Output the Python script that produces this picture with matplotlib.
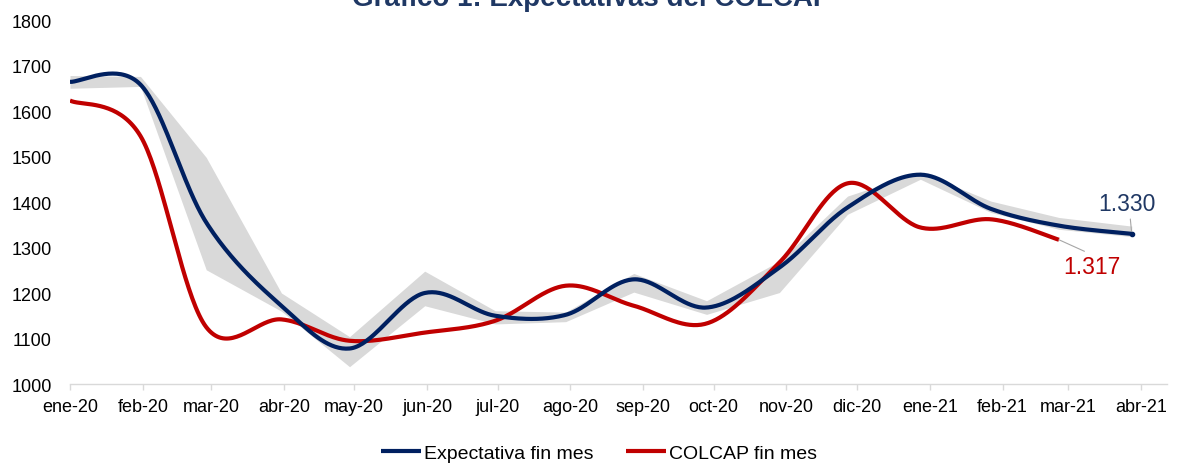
import numpy as np
import pandas as pd
import matplotlib
matplotlib.use('Agg')
import matplotlib.pyplot as plt
import matplotlib.dates as mdates

plt.rcParams['font.family'] = ['Liberation Sans', 'DejaVu Sans']

# Datos
fechas = pd.to_datetime(['2020-01-01', '2020-01-31', '2020-02-28', '2020-03-31',
                         '2020-04-29', '2020-05-31', '2020-06-30', '2020-07-30',
                         '2020-08-28', '2020-09-28', '2020-10-29', '2020-11-27',
                         '2020-12-28', '2021-01-27', '2021-02-25', '2021-03-28'])
expectativa = [1664, 1658, 1355, 1172, 1078, 1200, 1150, 1152,
               1230, 1168, 1256, 1388, 1460, 1385, 1348, 1330]
rango_min = [1650, 1654, 1251, 1160, 1038, 1172, 1132, 1137,
             1202, 1153, 1201, 1373, 1450, 1377, 1340, 1324]
rango_max = [1678, 1676, 1498, 1200, 1104, 1248, 1161, 1158,
             1243, 1183, 1270, 1413, 1466, 1402, 1366, 1347]
colcap = [1623, 1545, 1125, 1142, 1095, 1113, 1139, 1216,
          1172, 1133, 1267, 1441, 1344, 1362, 1317]

etiquetas_x = ['ene-20', 'feb-20', 'mar-20', 'abr-20', 'may-20', 'jun-20',
               'jul-20', 'ago-20', 'sep-20', 'oct-20', 'nov-20', 'dic-20',
               'ene-21', 'feb-21', 'mar-21', 'abr-21']
ticks_x = pd.date_range('2020-01-01', '2021-04-01', freq='MS')

azul = '#002060'
rojo = '#C00000'
gris = '#D9D9D9'


def suavizar(x, y, n=40):
    # curva suave tipo Excel (Catmull-Rom con Bezier)
    x = np.asarray(x, float)
    y = np.asarray(y, float)
    px = np.concatenate([[x[0]], x, [x[-1]]])
    py = np.concatenate([[y[0]], y, [y[-1]]])
    t = np.linspace(0, 1, n)
    xs, ys = [], []
    for i in range(len(x) - 1):
        x0, x1, x2, x3 = px[i:i + 4]
        y0, y1, y2, y3 = py[i:i + 4]
        cx1, cy1 = x1 + (x2 - x0) / 6, y1 + (y2 - y0) / 6
        cx2, cy2 = x2 - (x3 - x1) / 6, y2 - (y3 - y1) / 6
        b0 = (1 - t) ** 3
        b1 = 3 * (1 - t) ** 2 * t
        b2 = 3 * (1 - t) * t ** 2
        b3 = t ** 3
        xs.append(b0 * x1 + b1 * cx1 + b2 * cx2 + b3 * x2)
        ys.append(b0 * y1 + b1 * cy1 + b2 * cy2 + b3 * y2)
    return np.concatenate(xs), np.concatenate(ys)


xn = mdates.date2num(fechas)

fig = plt.figure(figsize=(11.81, 4.64), dpi=100)
ax = fig.add_axes([70 / 1181, 1 - 385 / 464, (1167 - 70) / 1181, (385 - 21) / 464])

ax.fill_between(xn, rango_min, rango_max, color=gris, lw=0, zorder=1)

bx, by = suavizar(xn, expectativa)
ax.plot(bx, by, color=azul, lw=3, zorder=3, solid_capstyle='butt',
        label='Expectativa fin mes')
ax.plot(xn[-1], expectativa[-1], 'o', color=azul, ms=3, zorder=4)

rx, ry = suavizar(xn[:len(colcap)], colcap)
ax.plot(rx, ry, color=rojo, lw=3, zorder=2, solid_capstyle='butt',
        label='COLCAP fin mes')

# etiquetas de los ultimos valores
ax.annotate('1.330', xy=(xn[-1], expectativa[-1]),
            xytext=(mdates.date2num(pd.Timestamp('2021-03-26')), 1397),
            ha='center', va='center', fontsize=16.5, color='#203864',
            arrowprops=dict(arrowstyle='-', color='#A6A6A6', lw=0.8,
                            relpos=(0.55, 0), shrinkA=1, shrinkB=0))
ax.annotate('1.317', xy=(xn[len(colcap) - 1], colcap[-1]),
            xytext=(mdates.date2num(pd.Timestamp('2021-03-11')), 1259),
            ha='center', va='center', fontsize=16.5, color=rojo,
            arrowprops=dict(arrowstyle='-', color='#A6A6A6', lw=0.8,
                            relpos=(0.5, 1), shrinkA=1, shrinkB=0))

ax.set_ylim(1000, 1800)
ax.set_yticks(np.arange(1000, 1801, 100))
ax.set_xlim(mdates.date2num(pd.Timestamp('2020-01-01')),
            mdates.date2num(pd.Timestamp('2021-04-12')))
ax.set_xticks(mdates.date2num(ticks_x))
ax.set_xticklabels(etiquetas_x)

for s in ['top', 'right', 'left']:
    ax.spines[s].set_visible(False)
ax.spines['bottom'].set_color(gris)
ax.spines['bottom'].set_linewidth(1)
ax.tick_params(axis='x', length=4, width=1, color=gris, pad=6,
               labelsize=13, labelcolor='black')
ax.tick_params(axis='y', length=0, pad=13, labelsize=13, labelcolor='black')

fig.text(592 / 1181, 1 - 6 / 464, 'Gráfico 1: Expectativas del COLCAP',
         ha='center', va='baseline', fontsize=20, fontweight='bold', color='#1F3864')

fig.legend(loc='center', bbox_to_anchor=(599 / 1181, 1 - 454 / 464), ncol=2,
           frameon=False, fontsize=14, handlelength=2.05, handletextpad=0.15,
           columnspacing=1.7, borderpad=0)

fig.savefig('out.png', dpi=100)
